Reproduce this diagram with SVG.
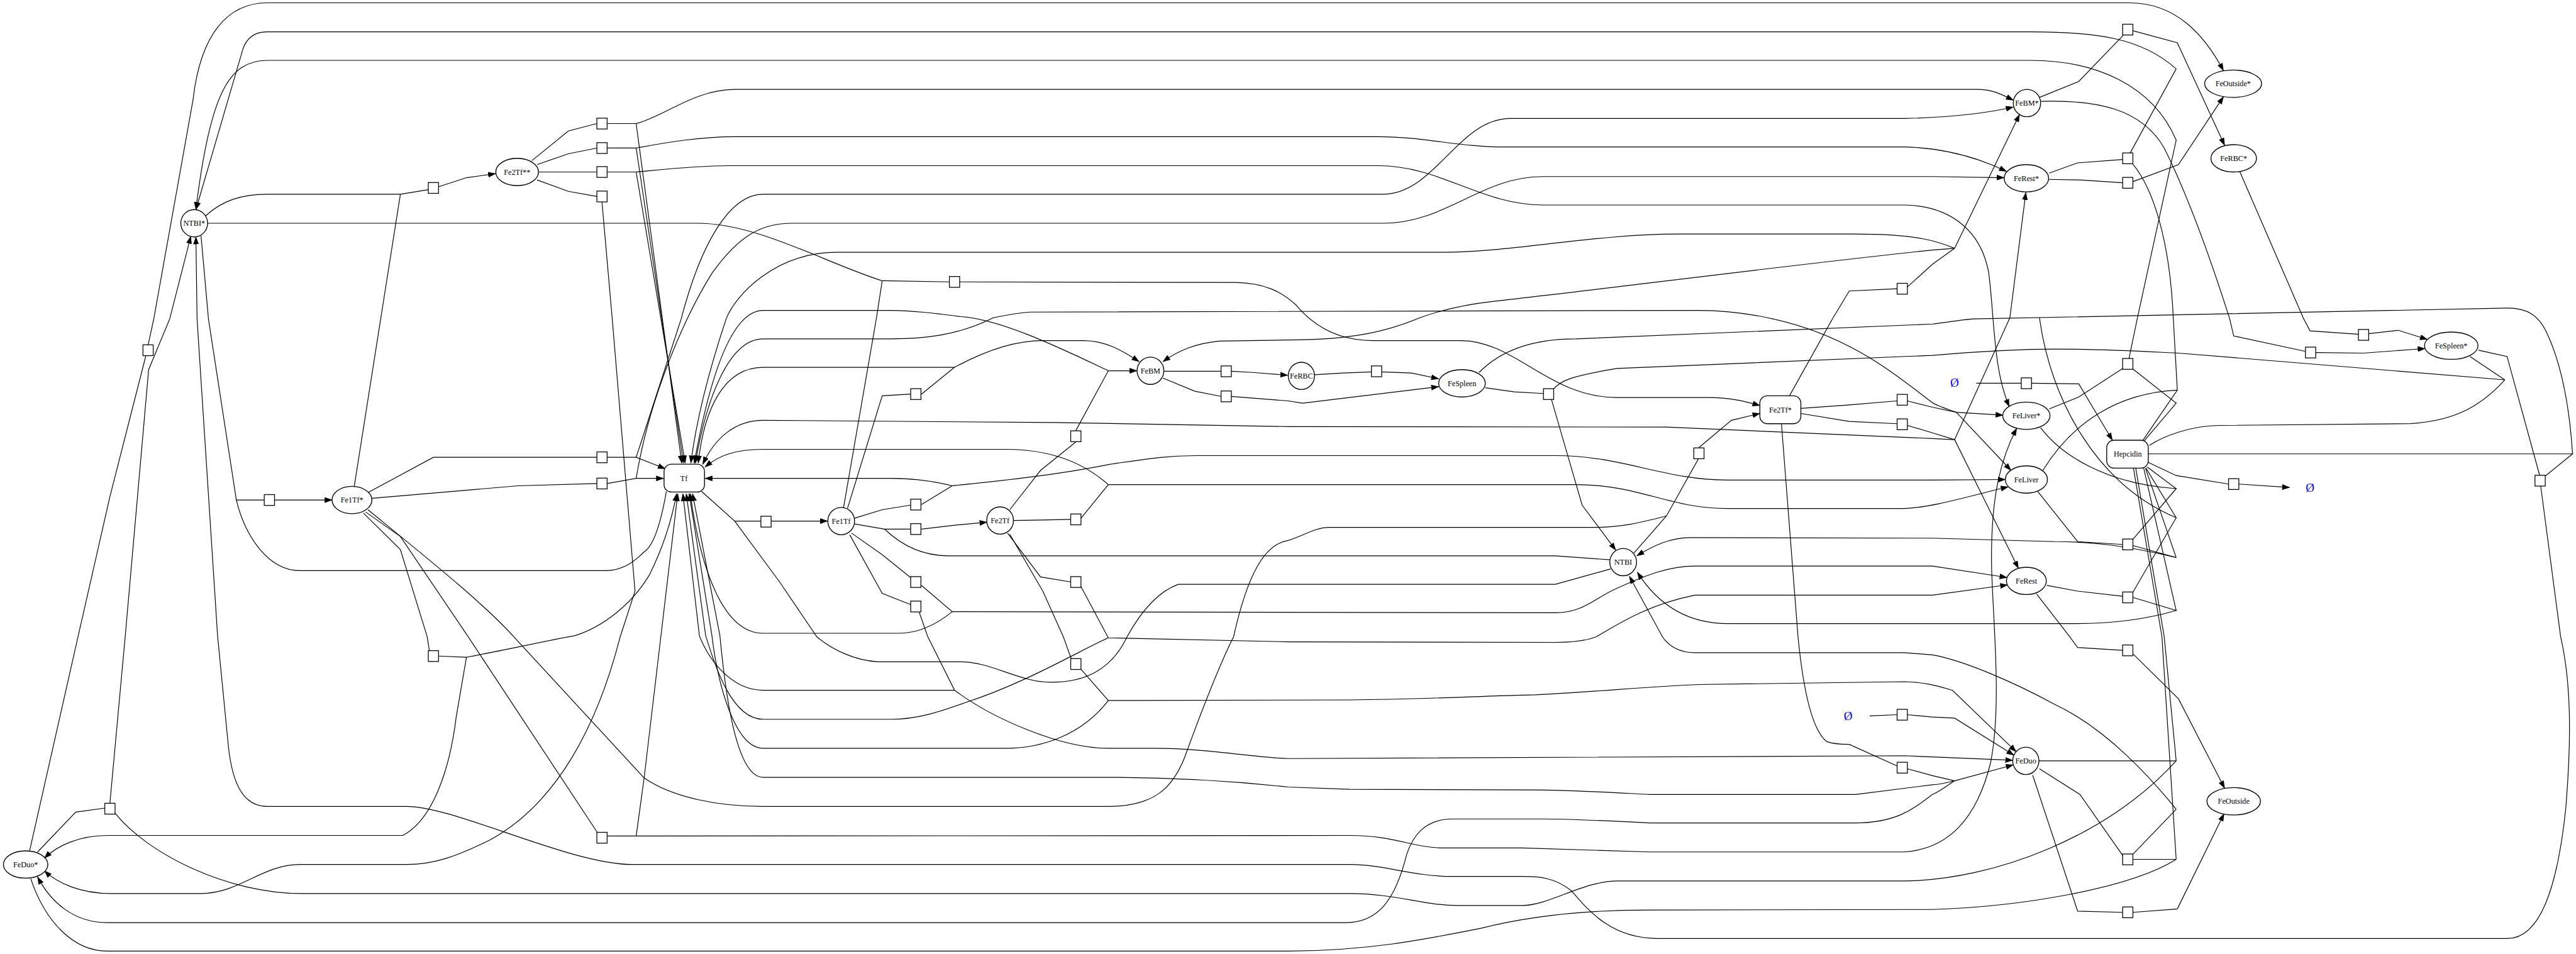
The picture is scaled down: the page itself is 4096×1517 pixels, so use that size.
<svg xmlns="http://www.w3.org/2000/svg" width="4096" height="1517" viewBox="0 0 4096 1517">
<defs>
<marker id="ar" markerUnits="userSpaceOnUse" markerWidth="14" markerHeight="10" refX="13" refY="5" orient="auto"><path d="M0,0 L14,5 L0,10 z" fill="#000"/></marker>
<style>
.c path{fill:none;stroke:#000;stroke-width:1.3}
.c path.a{marker-end:url(#ar)}
.n ellipse,.n rect{fill:#fff;stroke:#000;stroke-width:1.5}
.r rect{fill:#fff;stroke:#000;stroke-width:1.4}
.n text{font-family:"Liberation Serif","Times New Roman",serif;font-size:13.5px;text-anchor:middle;fill:#000}
.z text{font-family:"Liberation Serif","Times New Roman",serif;font-size:21px;text-anchor:middle;fill:#0000ff}
</style>
</defs>
<rect width="4096" height="1517" fill="#fff"/>
<g transform="scale(0.90559)">
<g id="connectors" class="c">
<path d="M934,282 L998,230 L1048,217"/>
<path class="a" d="M1066,217 L1117,217 C1165,205 1220,157 1290,157 L3470,157 C3500,157 3515,166 3535,176"/>
<path class="a" d="M1117,217 L1197,813"/>
<path d="M943,289 L998,270 L1048,260"/>
<path class="a" d="M1066,260 L1117,260 C1170,250 1230,240 1290,240 L2420,240 C2500,240 2560,258 2640,258 L3344,258 C3420,260 3480,280 3523,301"/>
<path class="a" d="M1117,260 L1200,813"/>
<path d="M946,302 L1048,302"/>
<path class="a" d="M1066,302 L1117,302 C1160,298 1220,291 1280,291 L2420,291 C2530,291 2600,360 2710,360 L3345,360 C3430,362 3480,410 3492,480 C3502,560 3500,650 3528,714"/>
<path class="a" d="M1117,302 L1203,813"/>
<path d="M943,316 L998,336 L1048,345"/>
<path class="a" d="M1057,355 L1075,560 L1115,1038 L1089,1118 C1050,1270 980,1410 860,1475 C800,1505 760,1518 714,1518 L527,1518 C460,1518 420,1569 353,1569 L195,1569 C140,1569 100,1550 78,1529"/>
<path d="M361,379 C390,352 425,341 469,341 L703,341 L752,333"/>
<path d="M622,854 L703,341"/>
<path class="a" d="M770,328 L819,312 L870,305"/>
<path d="M364,392 L1225,392 C1330,392 1450,462 1549,493 L1667,495"/>
<path d="M1481,892 L1539,558 L1549,493"/>
<path class="a" d="M1685,495 L2170,496 C2220,497 2250,512 2275,535 C2300,565 2340,598 2410,598 L2565,598 C2660,598 2720,698 2839,698 L2998,698 C3040,698 3065,705 3090,712"/>
<path d="M3142,695 L3218,559 L3247,511 L3331,507"/>
<path d="M3349,504 L3393,464 L3432,436"/>
<path class="a" d="M3432,436 L3546,201"/>
<path class="a" d="M3432,436 L3393,439 C3100,470 2800,510 2623,529 C2560,536 2520,548 2493,558 C2440,580 2380,597 2262,597 L2141,599 C2100,603 2070,615 2042,635"/>
<path class="a" d="M3432,436 C3405,425 3370,411 3258,411 L2947,411 C2800,411 2650,443 2536,443 L1470,443 C1360,443 1290,520 1275,560 C1255,620 1225,720 1213,813"/>
<path d="M3581,171 L3650,143 L3728,62"/>
<path class="a" d="M3745,54 L3823,75 L3906,255"/>
<path d="M3598,304 L3648,286 L3727,280"/>
<path class="a" d="M3740,269 L3821,121 C3760,66 3680,56 3565,56 L469,56 C445,56 432,68 426,88 L344,368"/>
<path d="M3744,287 C3780,330 3810,420 3816,560 L3823,685 L3762,774"/>
<path d="M3597,315 L3652,316 L3727,321"/>
<path class="a" d="M3745,319 L3825,289 L3904,170"/>
<path d="M52,1494 L137,1118 L193,872 L256,625"/>
<path class="a" d="M260,606 L270,560 L339,175 C352,60 400,5 469,5 L3738,5 C3820,5 3870,60 3904,124"/>
<path d="M353,414 L366,560 L415,878 L464,878"/>
<path d="M1170,863 C1160,920 1148,958 1131,969 C1110,990 1090,1002 1064,1002 L527,1002 C470,1002 430,940 415,878"/>
<path class="a" d="M482,878 L583,878"/>
<path d="M646,865 L761,803 L1048,803"/>
<path class="a" d="M1066,803 L1117,803 L1168,823"/>
<path class="a" d="M1117,803 L1196,560 C1230,430 1280,341 1340,341 L2428,341 C2520,341 2560,208 2652,208 L3344,208 C3440,206 3500,196 3535,188"/>
<path d="M653,875 L909,853 L1048,849"/>
<path class="a" d="M1066,849 L1117,840 L1165,840"/>
<path class="a" d="M1117,840 C1140,700 1200,560 1250,480 C1300,410 1340,392 1391,392 L2428,392 C2540,392 2600,310 2709,310 L3393,310 L3519,312"/>
<path d="M1488,893 L1549,695 L1599,692"/>
<path class="a" d="M1618,692 L1676,645 C1740,610 1790,598 1831,598 L1903,598 C1940,598 1970,615 2000,635"/>
<path class="a" d="M1676,645 L1340,645 C1270,645 1236,720 1226,813"/>
<path d="M2044,652 L2144,652"/>
<path class="a" d="M2162,652 L2200,654 L2261,659"/>
<path d="M2042,664 L2098,687 L2144,696"/>
<path class="a" d="M2162,696 L2262,704 L2287,708 L2526,679"/>
<path d="M1773,895 L1827,826 L1889,776"/>
<path class="a" d="M1889,756 L1946,651 L1996,651"/>
<path class="a" d="M1946,651 C1880,620 1760,560 1687,556 C1640,550 1600,545 1564,545 L1340,545 C1290,545 1250,640 1219,813"/>
<path d="M1500,910 L1549,895 L1599,887"/>
<path class="a" d="M1618,886 L1672,853 C1640,845 1600,840 1564,840 L1238,840"/>
<path class="a" d="M1672,853 C1750,845 1850,835 1950,815 C2020,805 2050,800 2100,800 L2731,800 C2850,800 2920,843 3034,843 L3393,843 L3521,842"/>
<path d="M1232,863 L1290,915 L1336,915"/>
<path d="M2828,999 L2731,1026 L2069,1026 C2030,1040 2000,1080 1979,1118 C1950,1180 1900,1198 1845,1198 C1790,1198 1740,1162 1687,1162 L1542,1162 C1500,1160 1460,1140 1434,1118 L1369,1022 L1290,915"/>
<path class="a" d="M1354,915 L1453,915"/>
<path d="M1500,920 L1553,929 L1599,929"/>
<path d="M2827,983 L2731,976 L1665,976 C1610,976 1575,950 1553,929"/>
<path class="a" d="M1618,929 L1679,922 L1733,917"/>
<path d="M1780,914 L1831,913 L1880,912"/>
<path class="a" d="M1898,910 L1946,851 L2262,851 L2767,851 C2880,851 2930,893 3034,893 L3344,893 C3400,890 3460,870 3526,855"/>
<path class="a" d="M1946,851 C1900,810 1840,789 1766,789 L1340,789 C1290,789 1262,800 1238,820"/>
<path d="M1495,936 L1549,974 L1600,1015"/>
<path class="a" d="M1618,1028 L1672,1074 L2731,1076 C2780,1076 2800,1050 2839,1033 C2890,1010 2930,994 2976,994 L3393,994 L3524,1014"/>
<path class="a" d="M1672,1074 C1640,1100 1610,1112 1578,1112 L1340,1112 C1270,1112 1230,1000 1212,867"/>
<path d="M1769,936 L1827,1013 L1881,1022"/>
<path class="a" d="M1898,1030 L1946,1120 L2262,1127 L2731,1128 C2760,1128 2785,1125 2803,1118 C2850,1090 2900,1060 2976,1045 L3393,1045 L3525,1027"/>
<path class="a" d="M1946,1120 C1900,1140 1800,1200 1694,1234 C1650,1250 1610,1263 1564,1263 L1340,1263 C1280,1263 1250,1150 1239,1116 L1205,867"/>
<path d="M1492,939 L1549,1042 L1600,1062"/>
<path class="a" d="M1614,1075 L1629,1118 L1676,1212 C1740,1260 1860,1314 1946,1314 L2026,1314 C2120,1314 2200,1330 2262,1332 L3344,1327 L3534,1335"/>
<path class="a" d="M1676,1212 L1340,1212 C1280,1212 1240,1150 1228,1116 L1199,867"/>
<path d="M2308,658 L2359,655 L2408,653"/>
<path class="a" d="M2426,653 L2478,655 L2526,665"/>
<path d="M2608,681 L2659,688 L2710,691"/>
<path class="a" d="M2724,701 L2778,887 L2837,966"/>
<path d="M2727,684 C2740,668 2760,660 2839,647 L3393,624 C3500,615 3560,613 3608,613 C3700,613 3780,618 3825,620 L4398,667"/>
<path d="M2983,804 L2926,906 L2869,971"/>
<path class="a" d="M2983,786 L3040,738 L3090,726"/>
<path d="M646,895 C750,980 850,1060 902,1118 L1131,1366 C1180,1400 1260,1416 1340,1416 L1946,1416 C2030,1416 2060,1380 2080,1330 C2120,1220 2150,1150 2166,1118 C2190,1010 2220,955 2262,949 C2290,940 2310,926 2334,926 L2803,926 C2850,926 2890,915 2926,906"/>
<path d="M3162,717 L3247,711 L3331,704"/>
<path d="M3349,704 L3393,715 L3435,724"/>
<path class="a" d="M3435,724 L3517,729"/>
<path class="a" d="M3435,724 L3531,826"/>
<path class="a" d="M3435,724 C3410,715 3400,712 3393,707 C3330,660 3250,590 3113,560 C3060,548 3020,545 2983,545 L1809,548 C1780,550 1760,555 1744,558 C1680,590 1620,595 1564,595 L1340,595 C1280,595 1240,700 1221,813"/>
<path d="M3162,726 L3247,740 L3331,744"/>
<path d="M3349,747 L3393,760 L3432,772"/>
<path class="a" d="M3432,772 L3544,998"/>
<path class="a" d="M3432,772 L3529,558 L3557,338"/>
<path class="a" d="M3432,772 L3393,770 L2926,750 L2262,749 L1852,742 L1340,738 C1290,738 1255,770 1234,815"/>
<path d="M3933,302 L4045,560 L4056,581 L4142,587"/>
<path class="a" d="M4159,586 L4211,580 L4262,596"/>
<path d="M3583,178 C3680,175 3760,190 3800,260 C3840,340 3880,450 3915,560 L3922,590 L4048,617"/>
<path class="a" d="M4066,619 L4150,620 L4258,612"/>
<path d="M3598,718 L3650,697 L3727,647"/>
<path class="a" d="M3738,630 L3753,558 L3821,246 C3780,150 3680,106 3565,106 L469,106 C400,106 368,170 344,368"/>
<path d="M3745,648 L3821,708 L3765,774"/>
<path d="M3470,673 L3549,673"/>
<path class="a" d="M3567,673 L3650,674 L3709,773"/>
<path d="M3772,812 L3821,835 L3913,850"/>
<path class="a" d="M3931,850 L4020,856"/>
<path d="M4352,615 L4402,626 L4459,834"/>
<path class="a" d="M4461,853 L4496,1118 C4515,1200 4515,1300 4505,1420 C4490,1560 4460,1648 4402,1648 L2911,1648 C2830,1648 2790,1600 2760,1565 C2730,1540 2700,1539 2673,1539 L2551,1539 C2480,1539 2430,1518 2370,1518 L1111,1518 C1000,1518 800,1416 714,1416 L469,1416 C420,1416 405,1360 400,1300 L382,1116 L346,560 L344,416"/>
<path d="M3772,797 L4517,797 L4469,836"/>
<path d="M2597,654 C2640,610 2700,595 2767,595 L3393,569 C3420,566 3440,562 3464,560 L4402,541 C4440,541 4458,555 4472,585 C4500,645 4512,720 4517,797"/>
<path d="M4337,626 L4398,667"/>
<path d="M3774,782 C3800,765 3850,747 3897,747 L4230,744 C4300,740 4350,720 4398,667"/>
<path d="M3578,863 L3648,951 L3727,956"/>
<path class="a" d="M3745,958 L3821,979 C3720,955 3660,951 3608,951 L3392,945 L2969,944 C2930,944 2900,960 2874,976"/>
<path d="M3821,979 L3767,822"/>
<path d="M3594,1028 L3648,1038 L3727,1047"/>
<path class="a" d="M3745,1049 L3821,1072 C3760,1090 3700,1095 3644,1095 L3034,1095 C2960,1095 2910,1060 2875,1005"/>
<path d="M3821,1072 L3764,822"/>
<path d="M3583,751 C3620,800 3700,850 3821,858 L3770,820"/>
<path d="M3821,858 L3745,947"/>
<path d="M3581,558 C3600,700 3680,850 3821,909 L3768,822"/>
<path d="M3821,909 L3745,1040"/>
<path d="M3587,826 C3640,740 3720,690 3823,685"/>
<path d="M638,901 L703,965 L750,1118 L754,1143"/>
<path class="a" d="M770,1152 L819,1154 C870,1145 960,1125 1010,1116 C1060,1100 1110,1060 1140,1010 C1165,960 1180,910 1188,867"/>
<path class="a" d="M819,1154 L801,1259 C790,1350 760,1440 707,1467 L188,1467 C140,1467 100,1485 78,1507"/>
<path d="M66,1496 L133,1426 L184,1419"/>
<path class="a" d="M193,1410 L220,1116 L261,649 L298,560 L335,415"/>
<path d="M202,1428 C260,1500 400,1569 530,1569 L2370,1569 C2450,1569 2500,1590 2560,1590 L2673,1590 C2720,1590 2780,1547 2839,1547 L3344,1547 C3500,1545 3700,1470 3821,1336"/>
<path d="M642,899 L703,942 L822,1118 L1049,1462"/>
<path class="a" d="M1066,1468 L1117,1468 L1131,1366 L1190,867"/>
<path class="a" d="M1117,1468 L2370,1467 C2450,1467 2480,1489 2536,1489 L2673,1489 L2897,1496 L3344,1496 C3420,1490 3470,1440 3495,1340 C3515,1240 3500,1100 3497,1000 C3495,900 3505,820 3541,752"/>
<path d="M1773,938 L1831,1038 L1867,1118 L1881,1157"/>
<path class="a" d="M1898,1175 L1946,1230 L2370,1229 C2500,1228 2600,1222 2695,1220 C2800,1215 2900,1205 2983,1202 L3344,1197 C3380,1198 3400,1204 3428,1212 L3540,1320"/>
<path class="a" d="M1946,1230 C1900,1290 1830,1314 1766,1314 L1340,1314 C1290,1314 1260,1200 1250,1116 L1210,867"/>
<path d="M3283,1257 L3331,1255"/>
<path class="a" d="M3349,1255 L3392,1259 L3432,1261 L3536,1326"/>
<path d="M3128,745 L3157,1118 C3165,1200 3180,1280 3207,1302 C3220,1307 3235,1307 3247,1307 L3331,1345"/>
<path d="M3349,1350 L3393,1362 L3432,1371"/>
<path class="a" d="M3432,1371 L3535,1343"/>
<path class="a" d="M3432,1371 C3415,1382 3405,1390 3393,1395 C3360,1420 3330,1445 3258,1445 L2897,1445 C2800,1440 2750,1438 2709,1438 L2551,1438 C2500,1438 2480,1470 2470,1500 C2450,1580 2420,1620 2363,1620 L188,1620 C130,1620 90,1585 66,1540"/>
<path class="a" d="M3432,1371 C3415,1375 3405,1378 3393,1378 L3258,1395 L2897,1395 C2800,1390 2750,1387 2695,1387 L2370,1386 L2262,1382 C2150,1370 2050,1365 1946,1365 L1340,1365 C1290,1365 1272,1200 1264,1116 L1216,867"/>
<path d="M3576,1043 L3634,1118 L3648,1137 L3727,1142"/>
<path class="a" d="M3745,1148 L3825,1227 L3906,1384"/>
<path d="M3581,1350 L3652,1395 L3727,1502"/>
<path d="M3745,1509 L3821,1509"/>
<path d="M3745,1500 L3821,1421"/>
<path class="a" d="M3821,1421 C3780,1370 3700,1280 3608,1237 C3540,1200 3450,1160 3393,1150 L3344,1146 L2976,1146 C2950,1146 2930,1135 2919,1118 L2861,1012"/>
<path d="M3750,822 L3800,1118 L3821,1336"/>
<path d="M3746,822 L3796,1118 L3821,1509"/>
<path d="M54,1543 C80,1620 130,1670 188,1670 L2262,1670 C2400,1670 2500,1650 2600,1630 C2700,1605 2800,1598 2890,1598 L3392,1597 C3550,1592 3740,1560 3821,1509"/>
<path d="M3580,1336 L3821,1336"/>
<path d="M3569,1361 L3648,1600 L3727,1602"/>
<path class="a" d="M3745,1602 L3823,1596 L3905,1429"/>
</g>
<g class="n">
<g id="n-NTBIs"><ellipse cx="341" cy="392" rx="23.5" ry="24"/><text x="341" y="396.5">NTBI*</text></g>
<g id="n-Fe2Tfss"><ellipse cx="908" cy="302" rx="37.5" ry="24"/><text x="908" y="306.5">Fe2Tf**</text></g>
<g id="n-Fe1Tfs"><ellipse cx="618" cy="878" rx="35" ry="24"/><text x="618" y="882.5">Fe1Tf*</text></g>
<g id="n-Tf"><rect x="1166" y="815" width="71" height="49" rx="13"/><text x="1201" y="844.5">Tf</text></g>
<g id="n-Fe1Tf"><ellipse cx="1477" cy="915" rx="23.5" ry="24"/><text x="1477" y="919.5">Fe1Tf</text></g>
<g id="n-Fe2Tf"><ellipse cx="1756" cy="914" rx="23.5" ry="24"/><text x="1756" y="918.5">Fe2Tf</text></g>
<g id="n-FeBM"><ellipse cx="2020" cy="651" rx="23.5" ry="24"/><text x="2020" y="655.5">FeBM</text></g>
<g id="n-FeRBC"><ellipse cx="2285" cy="660" rx="23" ry="24"/><text x="2285" y="664.5">FeRBC</text></g>
<g id="n-FeSpleen"><ellipse cx="2567" cy="673" rx="41" ry="24"/><text x="2567" y="677.5">FeSpleen</text></g>
<g id="n-Fe2Tfs"><rect x="3090" y="695" width="72" height="49" rx="13"/><text x="3126" y="724.5">Fe2Tf*</text></g>
<g id="n-NTBI"><ellipse cx="2850" cy="987" rx="23.5" ry="24"/><text x="2850" y="991.5">NTBI</text></g>
<g id="n-FeOutsides"><ellipse cx="3921" cy="147" rx="50" ry="24"/><text x="3921" y="151.5">FeOutside*</text></g>
<g id="n-FeRBCs"><ellipse cx="3922" cy="278" rx="40" ry="24"/><text x="3922" y="282.5">FeRBC*</text></g>
<g id="n-FeBMs"><ellipse cx="3559" cy="181" rx="24" ry="24"/><text x="3559" y="185.5">FeBM*</text></g>
<g id="n-FeRests"><ellipse cx="3558" cy="313" rx="39" ry="24"/><text x="3558" y="317.5">FeRest*</text></g>
<g id="n-FeLivers"><ellipse cx="3558" cy="730" rx="41.5" ry="24"/><text x="3558" y="734.5">FeLiver*</text></g>
<g id="n-FeLiver"><ellipse cx="3558" cy="842" rx="37" ry="24"/><text x="3558" y="846.5">FeLiver</text></g>
<g id="n-FeRest"><ellipse cx="3558" cy="1020" rx="35" ry="24"/><text x="3558" y="1024.5">FeRest</text></g>
<g id="n-Hepcidin"><rect x="3699" y="773" width="73" height="49" rx="13"/><text x="3736" y="801.5">Hepcidin</text></g>
<g id="n-FeSpleens"><ellipse cx="4304" cy="607" rx="47" ry="24"/><text x="4304" y="611.5">FeSpleen*</text></g>
<g id="n-FeDuo"><ellipse cx="3557" cy="1336" rx="23" ry="24"/><text x="3557" y="1340.5">FeDuo</text></g>
<g id="n-FeOutside"><ellipse cx="3922" cy="1407" rx="47" ry="24"/><text x="3922" y="1411.5">FeOutside</text></g>
<g id="n-FeDuos"><ellipse cx="45" cy="1518" rx="39" ry="24"/><text x="45" y="1522.5">FeDuo*</text></g>
</g>
<g class="z">
<g id="n-empty1"><text x="3432" y="679">Ø</text></g>
<g id="n-empty2"><text x="4056" y="863">Ø</text></g>
<g id="n-empty3"><text x="3245" y="1264">Ø</text></g>
</g>
<g class="r">
<g id="r1"><rect x="1048" y="207.5" width="18" height="19"/></g>
<g id="r2"><rect x="1048" y="250.5" width="18" height="19"/></g>
<g id="r3"><rect x="1048" y="292.5" width="18" height="19"/></g>
<g id="r4"><rect x="1048" y="335.5" width="18" height="19"/></g>
<g id="r5"><rect x="752" y="320.5" width="18" height="19"/></g>
<g id="r6"><rect x="1667" y="485.5" width="18" height="19"/></g>
<g id="r7"><rect x="3331" y="497.5" width="18" height="19"/></g>
<g id="r8"><rect x="3727" y="42.5" width="18" height="19"/></g>
<g id="r9"><rect x="3727" y="268.5" width="18" height="19"/></g>
<g id="r10"><rect x="3727" y="311.5" width="18" height="19"/></g>
<g id="r11"><rect x="251" y="605.5" width="18" height="19"/></g>
<g id="r12"><rect x="464" y="868.5" width="18" height="19"/></g>
<g id="r13"><rect x="1048" y="793.5" width="18" height="19"/></g>
<g id="r14"><rect x="1048" y="839.5" width="18" height="19"/></g>
<g id="r15"><rect x="1599" y="682.5" width="18" height="19"/></g>
<g id="r16"><rect x="2144" y="642.5" width="18" height="19"/></g>
<g id="r17"><rect x="2144" y="686.5" width="18" height="19"/></g>
<g id="r18"><rect x="1880" y="756.5" width="18" height="19"/></g>
<g id="r19"><rect x="1599" y="876.5" width="18" height="19"/></g>
<g id="r20"><rect x="1336" y="906.5" width="18" height="19"/></g>
<g id="r21"><rect x="1599" y="919.5" width="18" height="19"/></g>
<g id="r22"><rect x="1880" y="902.5" width="18" height="19"/></g>
<g id="r23"><rect x="1599" y="1012.5" width="18" height="19"/></g>
<g id="r24"><rect x="1880" y="1012.5" width="18" height="19"/></g>
<g id="r25"><rect x="1599" y="1055.5" width="18" height="19"/></g>
<g id="r26"><rect x="2408" y="642.5" width="18" height="19"/></g>
<g id="r27"><rect x="2710" y="682.5" width="18" height="19"/></g>
<g id="r28"><rect x="2974" y="786.5" width="18" height="19"/></g>
<g id="r29"><rect x="3331" y="692.5" width="18" height="19"/></g>
<g id="r30"><rect x="3331" y="735.5" width="18" height="19"/></g>
<g id="r31"><rect x="4141" y="578.5" width="18" height="19"/></g>
<g id="r32"><rect x="4048" y="609.5" width="18" height="19"/></g>
<g id="r33"><rect x="3727" y="629.5" width="18" height="19"/></g>
<g id="r34"><rect x="3549" y="663.5" width="18" height="19"/></g>
<g id="r35"><rect x="3913" y="840.5" width="18" height="19"/></g>
<g id="r36"><rect x="4451" y="834.5" width="18" height="19"/></g>
<g id="r37"><rect x="3727" y="946.5" width="18" height="19"/></g>
<g id="r38"><rect x="3727" y="1039.5" width="18" height="19"/></g>
<g id="r39"><rect x="752" y="1142.5" width="18" height="19"/></g>
<g id="r40"><rect x="184" y="1410.5" width="18" height="19"/></g>
<g id="r41"><rect x="1048" y="1461.5" width="18" height="19"/></g>
<g id="r42"><rect x="1880" y="1156.5" width="18" height="19"/></g>
<g id="r43"><rect x="3331" y="1245.5" width="18" height="19"/></g>
<g id="r44"><rect x="3331" y="1338.5" width="18" height="19"/></g>
<g id="r45"><rect x="3727" y="1132.5" width="18" height="19"/></g>
<g id="r46"><rect x="3727" y="1499.5" width="18" height="19"/></g>
<g id="r47"><rect x="3727" y="1592.5" width="18" height="19"/></g>
</g>
</g>
</svg>
